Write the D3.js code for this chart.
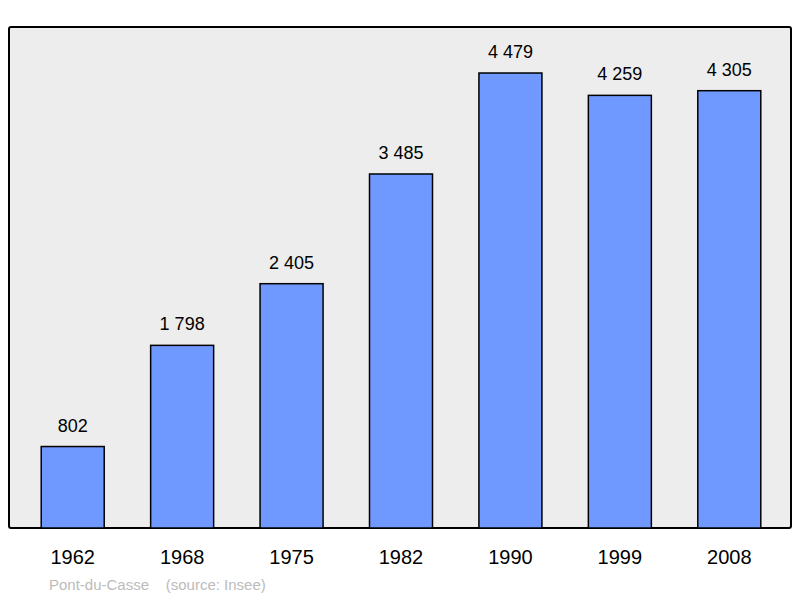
<!DOCTYPE html>
<html><head><meta charset="utf-8">
<script src="https://cdn.jsdelivr.net/npm/d3@7"></script>
<style>body{margin:0;background:#fff}</style></head>
<body><svg id="c" width="800" height="598"></svg>
<script>
const years = ["1962","1968","1975","1982","1990","1999","2008"];
const population = [802,1798,2405,3485,4479,4259,4305];
const svg = d3.select("#c");
const font = "Liberation Sans, Arial, sans-serif";
svg.append("rect").attr("x",9).attr("y",27).attr("width",782).attr("height",501)
  .attr("rx",2).attr("fill","#ededed").attr("stroke","#000").attr("stroke-width",2);
const x = d3.scaleBand().domain(years).range([18,784]);
const y = d3.scaleLinear().domain([0,4932]).range([528,27]);
const bw = 63;
svg.selectAll(".b").data(years).enter().append("rect")
  .attr("x",d=>x(d)+x.bandwidth()/2-bw/2).attr("y",(d,i)=>y(population[i]))
  .attr("width",bw).attr("height",(d,i)=>528-y(population[i]))
  .attr("fill","#7099ff").attr("stroke","#000").attr("stroke-width",1.5);
const fmt = v => String(v).replace(/\B(?=(\d{3})+(?!\d))/g," ");
svg.selectAll(".v").data(years).enter().append("text")
  .attr("x",d=>x(d)+x.bandwidth()/2).attr("y",(d,i)=>y(population[i])-15)
  .attr("text-anchor","middle").attr("font-family",font).attr("font-size",18)
  .text((d,i)=>fmt(population[i]));
svg.selectAll(".t").data(years).enter().append("text")
  .attr("x",d=>x(d)+x.bandwidth()/2).attr("y",564)
  .attr("text-anchor","middle").attr("font-family",font).attr("font-size",20).text(d=>d);
svg.append("text").attr("x",49).attr("y",590).attr("font-family",font).attr("font-size",15)
  .attr("fill","#bbb").attr("xml:space","preserve").style("white-space","pre").text("Pont-du-Casse    (source: Insee)");
</script></body></html>
